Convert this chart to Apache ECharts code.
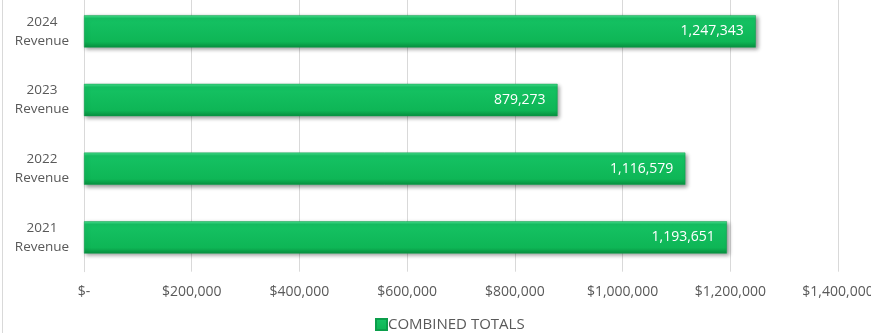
<!DOCTYPE html>
<html>
<head>
<meta charset="utf-8">
<script src="https://cdn.jsdelivr.net/npm/echarts@6/dist/echarts.min.js"></script>
<style>
  html, body { margin: 0; padding: 0; background: #fff; }
  #chart { width: 871px; height: 333px; }
</style>
</head>
<body>
<div id="chart"></div>
<script>
// Revenue per year, bottom-to-top order on the category axis
const categories = ['2021\nRevenue', '2022\nRevenue', '2023\nRevenue', '2024\nRevenue'];
const combinedTotals = [1193651, 1116579, 879273, 1247343];
const seriesName = 'COMBINED TOTALS';
const axisMax = 1400000;
const axisStep = 200000;

const chart = echarts.init(document.getElementById('chart'), null, { renderer: 'canvas' });

function money(v) {
  if (v === 0) return '$-';
  return '$' + v.toLocaleString('en-US');
}

const barFill = new echarts.graphic.LinearGradient(0, 0, 0, 1, [
  { offset: 0, color: '#48e08e' },
  { offset: 0.1, color: '#15c263' },
  { offset: 0.82, color: '#0eb656' },
  { offset: 1, color: '#08903f' }
]);

chart.setOption({
  animation: false,
  textStyle: { fontFamily: 'Open Sans, Lato, sans-serif' },
  graphic: [{
    type: 'line',
    shape: { x1: 2.5, y1: 0, x2: 2.5, y2: 333 },
    style: { stroke: '#d9d9d9', lineWidth: 1 }
  }],
  grid: {
    left: 84, right: 33, top: -3, height: 274.7,
    containLabel: false,
    outerBoundsMode: 'none'
  },
  legend: {
    top: 317,
    left: 375,
    padding: 0,
    itemWidth: 11,
    itemHeight: 11,
    itemGap: 4,
    icon: 'rect',
    textStyle: { color: '#595959', fontSize: 15, padding: [0, 0, 0, -4] },
    data: [seriesName]
  },
  xAxis: {
    type: 'value',
    min: 0,
    max: axisMax,
    interval: axisStep,
    axisLine: { show: false },
    axisTick: { show: false },
    splitLine: { lineStyle: { color: '#d9d9d9', width: 1 } },
    axisLabel: {
      color: '#595959',
      fontSize: 14,
      margin: 13,
      hideOverlap: false,
      formatter: money
    }
  },
  yAxis: {
    type: 'category',
    data: categories,
    axisLine: { lineStyle: { color: '#d9d9d9' } },
    axisTick: { show: false },
    axisLabel: {
      color: '#595959',
      fontSize: 13.5,
      lineHeight: 19,
      align: 'center',
      margin: 42
    }
  },
  series: [{
    name: seriesName,
    type: 'bar',
    data: combinedTotals,
    barCategoryGap: '53%',
    itemStyle: {
      color: barFill,
      borderColor: '#0b9e4b',
      borderWidth: 0.5,
      shadowColor: 'rgba(0,0,0,0.4)',
      shadowBlur: 4,
      shadowOffsetX: 2,
      shadowOffsetY: 2
    },
    label: {
      show: true,
      position: 'insideRight',
      distance: 12,
      color: '#ffffff',
      fontSize: 14,
      formatter: p => p.value.toLocaleString('en-US')
    }
  }]
});
</script>
</body>
</html>
